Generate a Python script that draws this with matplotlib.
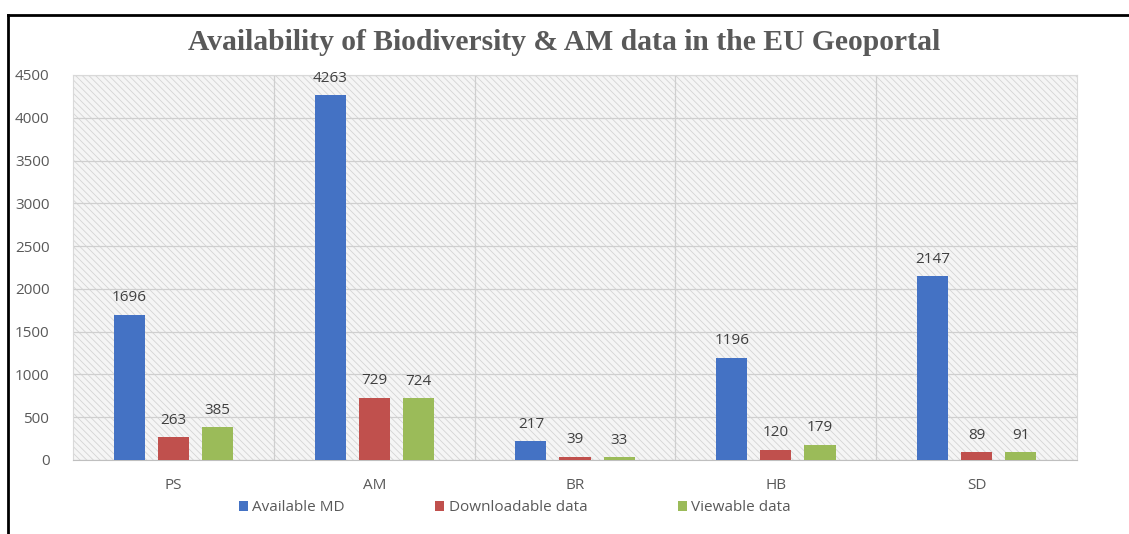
import numpy as np
import matplotlib.pyplot as plt
from matplotlib.patches import Rectangle
from matplotlib.lines import Line2D

categories = ['PS', 'AM', 'BR', 'HB', 'SD']
available_md = [1696, 4263, 217, 1196, 2147]
downloadable = [263, 729, 39, 120, 89]
viewable = [385, 724, 33, 179, 91]
series_names = ['Available MD', 'Downloadable data', 'Viewable data']
colors = ['#4472C4', '#C0504D', '#9BBB59']

plt.rcParams['font.family'] = ['Open Sans', 'DejaVu Sans']
plt.rcParams['hatch.color'] = '#d4d4d4'
plt.rcParams['hatch.linewidth'] = 0.6

fig = plt.figure(figsize=(11.29, 5.34), dpi=100)
ax = fig.add_axes([0.0647, 0.1386, 0.8893, 0.721])

# hatched background
ax.add_patch(Rectangle((0, 0), 1, 1, transform=ax.transAxes, facecolor='#f5f5f5',
                       edgecolor='#d4d4d4', hatch='\\\\\\\\\\', linewidth=0, zorder=0))

x = np.arange(len(categories))
w = 0.155
step = 0.22
for i, (vals, c, name) in enumerate(zip([available_md, downloadable, viewable], colors, series_names)):
    pos = x + (i - 1) * step
    bars = ax.bar(pos, vals, w, color=c, label=name, zorder=3)
    for b, v in zip(bars, vals):
        ax.text(b.get_x() + b.get_width() / 2, v + 110, str(v), ha='center', va='bottom',
                fontsize=11, color='#404040', zorder=4)

ax.set_xlim(-0.5, len(categories) - 0.5)
ax.set_ylim(0, 4500)
ax.set_yticks(range(0, 4501, 500))
ax.set_xticks(x)
ax.set_xticklabels(categories)
ax.set_xticks(np.arange(0.5, len(categories) - 1, 1), minor=True)
ax.tick_params(axis='both', which='both', length=0, labelsize=11, labelcolor='#595959')
ax.tick_params(axis='x', pad=13)
ax.tick_params(axis='y', pad=17)
ax.grid(axis='y', color='#cfcfcf', linewidth=0.9, zorder=1)
ax.grid(axis='x', which='minor', color='#cfcfcf', linewidth=0.9, zorder=1)
for s in ['top', 'right', 'left']:
    ax.spines[s].set_color('#d9d9d9')
ax.spines['bottom'].set_color('#bfbfbf')

fig.text(0.5, 0.92, 'Availability of Biodiversity & AM data in the EU Geoportal',
         ha='center', va='center', fontsize=21.3, fontweight='bold',
         color='#595959', family=['Liberation Serif', 'DejaVu Serif'])

leg = fig.legend(loc='center', bbox_to_anchor=(0.456, 0.049), ncol=3, frameon=False,
                 fontsize=11, handlelength=0.6, handleheight=0.6, handletextpad=0.3,
                 columnspacing=5.9)
for t in leg.get_texts():
    t.set_color('#595959')

# frame of the original picture
fig.add_artist(Line2D([0.0071, 0.0071], [0, 0.972], color='black', linewidth=2))
fig.add_artist(Line2D([0.0071, 1.0], [0.972, 0.972], color='black', linewidth=2))

fig.savefig('out.png', dpi=100)
